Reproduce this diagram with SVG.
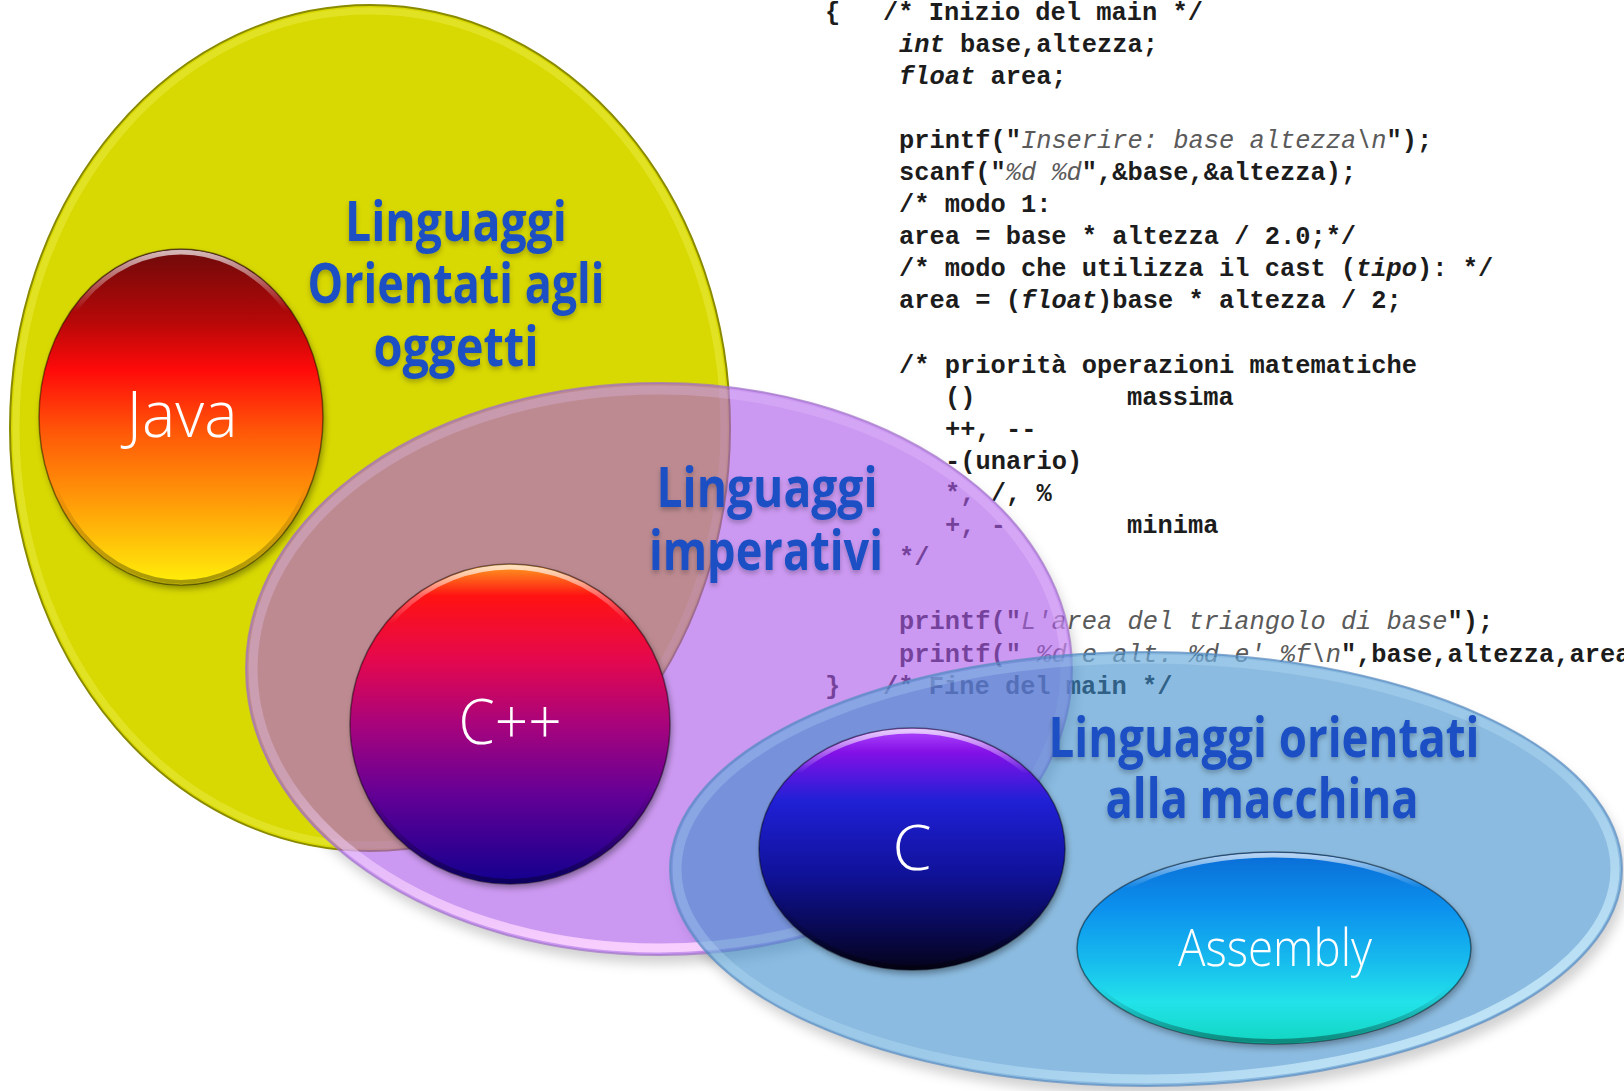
<svg xmlns="http://www.w3.org/2000/svg" width="1624" height="1091" viewBox="0 0 1624 1091">
  <style>
    .code { font-family: "Liberation Mono", "Courier New", monospace; font-size: 25.4px; font-weight: bold; fill: #1c1c1c; white-space: pre; }
    .kw { font-style: italic; }
    .str { font-style: italic; font-weight: normal; fill: #5a5a5a; }
    .set-label { font-family: "Open Sans", "Liberation Sans", sans-serif; font-weight: bold; font-size: 56px; fill: #1b4fc4; text-anchor: middle; filter: url(#labelShadow); }
    .node-label { font-family: "Open Sans", "Liberation Sans", sans-serif; font-weight: 300; fill: #ffffff; text-anchor: middle; }
    .node-edge { fill: none; stroke: #000000; stroke-opacity: 0.45; stroke-width: 1.5; }
    .node-hi { fill: none; stroke: url(#nodeHi); stroke-width: 5; }
    .node-lo { fill: none; stroke: url(#nodeLo); stroke-width: 4; }
  </style>
  <defs>
    <!-- node fills -->
    <linearGradient id="gJava" x1="0" y1="0" x2="0" y2="1">
      <stop offset="0" stop-color="#6e0a0a"/>
      <stop offset="0.22" stop-color="#b80808"/>
      <stop offset="0.36" stop-color="#ff0a0a"/>
      <stop offset="0.55" stop-color="#ff5a08"/>
      <stop offset="0.75" stop-color="#ff9a08"/>
      <stop offset="1" stop-color="#fff00a"/>
    </linearGradient>
    <linearGradient id="gCpp" x1="0" y1="0" x2="0" y2="1">
      <stop offset="0" stop-color="#ffa020"/>
      <stop offset="0.1" stop-color="#ff1212"/>
      <stop offset="0.3" stop-color="#e4084e"/>
      <stop offset="0.5" stop-color="#a8047c"/>
      <stop offset="0.72" stop-color="#640096"/>
      <stop offset="1" stop-color="#12008e"/>
    </linearGradient>
    <linearGradient id="gC" x1="0" y1="0" x2="0" y2="1">
      <stop offset="0" stop-color="#b04aff"/>
      <stop offset="0.1" stop-color="#8410e6"/>
      <stop offset="0.3" stop-color="#2020d6"/>
      <stop offset="0.6" stop-color="#10129a"/>
      <stop offset="0.85" stop-color="#08084c"/>
      <stop offset="1" stop-color="#05031a"/>
    </linearGradient>
    <linearGradient id="gAsm" x1="0" y1="0" x2="0" y2="1">
      <stop offset="0" stop-color="#0a6cd6"/>
      <stop offset="0.3" stop-color="#0c92ee"/>
      <stop offset="0.55" stop-color="#16b8ee"/>
      <stop offset="0.78" stop-color="#22e2ea"/>
      <stop offset="1" stop-color="#12d6c0"/>
    </linearGradient>
    <!-- glossy rims -->
    <linearGradient id="nodeHi" x1="0" y1="0" x2="0" y2="1">
      <stop offset="0" stop-color="#ffffff" stop-opacity="0.7"/>
      <stop offset="0.18" stop-color="#ffffff" stop-opacity="0"/>
    </linearGradient>
    <linearGradient id="nodeLo" x1="0" y1="0" x2="0" y2="1">
      <stop offset="0.7" stop-color="#000000" stop-opacity="0"/>
      <stop offset="1" stop-color="#000000" stop-opacity="0.35"/>
    </linearGradient>
    <linearGradient id="purpleRim" x1="0" y1="0" x2="0" y2="1">
      <stop offset="0" stop-color="#e8c8ff" stop-opacity="0.25"/>
      <stop offset="0.7" stop-color="#f2d0ff" stop-opacity="0.3"/>
      <stop offset="1" stop-color="#ffd8ff" stop-opacity="0.85"/>
    </linearGradient>
    <linearGradient id="blueRim" x1="0" y1="0" x2="1" y2="1">
      <stop offset="0" stop-color="#c8e4ff" stop-opacity="0.2"/>
      <stop offset="0.6" stop-color="#c8ecff" stop-opacity="0.3"/>
      <stop offset="1" stop-color="#d8f6ff" stop-opacity="0.95"/>
    </linearGradient>
    <filter id="soft" x="-10%" y="-10%" width="120%" height="130%">
      <feGaussianBlur stdDeviation="6"/>
    </filter>
    <filter id="nodeShadow" x="-10%" y="-10%" width="120%" height="130%">
      <feGaussianBlur stdDeviation="3"/>
    </filter>
    <filter id="labelShadow" x="-10%" y="-20%" width="120%" height="150%">
      <feDropShadow dx="0" dy="3" stdDeviation="2.5" flood-color="#000000" flood-opacity="0.25"/>
    </filter>
    <mask id="outsidePurple">
      <rect width="1624" height="1091" fill="#ffffff"/>
      <ellipse cx="659" cy="669" rx="413" ry="286" fill="#000000"/>
    </mask>
    <mask id="outsideBlue">
      <rect width="1624" height="1091" fill="#ffffff"/>
      <ellipse cx="1146" cy="869" rx="476" ry="217" fill="#000000"/>
    </mask>
  </defs>

  <rect width="1624" height="1091" fill="#ffffff"/>

  <!-- C source listing in the background -->
  <g id="code" class="code">
    <text x="825" y="19.5">{</text>
    <text x="883" y="19.5">/* Inizio del main */</text>
    <text x="899" y="51.6"><tspan class="kw">int</tspan> base,altezza;</text>
    <text x="899" y="83.7"><tspan class="kw">float</tspan> area;</text>
    <text x="899" y="147.9">printf("<tspan class="str">Inserire: base altezza\n</tspan>");</text>
    <text x="899" y="180">scanf("<tspan class="str">%d %d</tspan>",&amp;base,&amp;altezza);</text>
    <text x="899" y="212.1">/* modo 1:</text>
    <text x="899" y="244.2">area = base * altezza / 2.0;*/</text>
    <text x="899" y="276.3">/* modo che utilizza il cast (<tspan class="kw">tipo</tspan>): */</text>
    <text x="899" y="308.4">area = (<tspan class="kw">float</tspan>)base * altezza / 2;</text>
    <text x="899" y="372.6">/* priorità operazioni matematiche</text>
    <text x="945" y="404.7">()</text>
    <text x="1127" y="404.7">massima</text>
    <text x="945" y="436.8">++, --</text>
    <text x="945" y="468.9">-(unario)</text>
    <text x="945" y="501">*, /, %</text>
    <text x="945" y="533.1">+, -</text>
    <text x="1127" y="533.1">minima</text>
    <text x="899" y="565.2">*/</text>
    <text x="899" y="629.4">printf("<tspan class="str">L'area del triangolo di base</tspan>");</text>
    <text x="899" y="661.5">printf("<tspan class="str"> %d e alt. %d e' %f\n</tspan>",base,altezza,area</text>
    <text x="825" y="693.6">}</text>
    <text x="883" y="693.6">/* Fine del main */</text>
  </g>

  <!-- soft shadows under the translucent sets -->
  <g id="set-shadows">
    <ellipse cx="663" cy="678" rx="413" ry="286" fill="#000000" fill-opacity="0.18" filter="url(#soft)" mask="url(#outsidePurple)"/>
    <ellipse cx="1150" cy="878" rx="476" ry="217" fill="#000000" fill-opacity="0.18" filter="url(#soft)" mask="url(#outsideBlue)"/>
  </g>

  <!-- object oriented languages -->
  <g id="set-oop">
    <ellipse cx="370" cy="428" rx="360" ry="423" fill="#d8d802" stroke="#8a8a00" stroke-width="2"/>
    <ellipse cx="370" cy="428" rx="354" ry="417" fill="none" stroke="#efef50" stroke-opacity="0.45" stroke-width="7"/>
  </g>

  <!-- imperative languages -->
  <g id="set-imperative">
    <ellipse cx="659" cy="669" rx="413" ry="286" fill="#ad5aea" fill-opacity="0.62" stroke="#a070c8" stroke-opacity="0.7" stroke-width="2"/>
    <ellipse cx="659" cy="669" rx="406" ry="279" fill="none" stroke="url(#purpleRim)" stroke-width="9"/>
  </g>

  <!-- machine oriented languages -->
  <g id="set-machine">
    <ellipse cx="1146" cy="869" rx="476" ry="217" fill="#3e8ecb" fill-opacity="0.6" stroke="#5a8cc0" stroke-opacity="0.7" stroke-width="2"/>
    <ellipse cx="1146" cy="869" rx="469" ry="210" fill="none" stroke="url(#blueRim)" stroke-width="9"/>
  </g>

  <g id="java">
    <ellipse cx="183" cy="421" rx="142" ry="168" fill="#000000" fill-opacity="0.35" filter="url(#nodeShadow)"/>
    <ellipse cx="181" cy="417" rx="142" ry="168" fill="url(#gJava)"/>
    <ellipse cx="181" cy="417" rx="139" ry="165" class="node-hi"/>
    <ellipse cx="181" cy="417" rx="139" ry="165" class="node-lo"/>
    <ellipse cx="181" cy="417" rx="142" ry="168" class="node-edge"/>
    <text class="node-label" x="182" y="437" font-size="64" textLength="111" lengthAdjust="spacingAndGlyphs">Java</text>
  </g>

  <g id="cpp">
    <ellipse cx="512" cy="728" rx="160" ry="160" fill="#000000" fill-opacity="0.35" filter="url(#nodeShadow)"/>
    <ellipse cx="510" cy="724" rx="160" ry="160" fill="url(#gCpp)"/>
    <ellipse cx="510" cy="724" rx="157" ry="157" class="node-hi"/>
    <ellipse cx="510" cy="724" rx="157" ry="157" class="node-lo"/>
    <ellipse cx="510" cy="724" rx="160" ry="160" class="node-edge"/>
    <text class="node-label" x="510" y="744" font-size="63" textLength="103" lengthAdjust="spacingAndGlyphs">C++</text>
  </g>

  <g id="c">
    <ellipse cx="914" cy="853" rx="153" ry="121" fill="#000000" fill-opacity="0.35" filter="url(#nodeShadow)"/>
    <ellipse cx="912" cy="849" rx="153" ry="121" fill="url(#gC)"/>
    <ellipse cx="912" cy="849" rx="150" ry="118" class="node-hi"/>
    <ellipse cx="912" cy="849" rx="150" ry="118" class="node-lo"/>
    <ellipse cx="912" cy="849" rx="153" ry="121" class="node-edge"/>
    <text class="node-label" x="912" y="870" font-size="63">C</text>
  </g>

  <g id="assembly">
    <ellipse cx="1276" cy="952" rx="197" ry="96" fill="#000000" fill-opacity="0.3" filter="url(#nodeShadow)"/>
    <ellipse cx="1274" cy="948" rx="197" ry="96" fill="url(#gAsm)"/>
    <ellipse cx="1274" cy="948" rx="194" ry="93" class="node-hi"/>
    <ellipse cx="1274" cy="948" rx="194" ry="93" class="node-lo"/>
    <ellipse cx="1274" cy="948" rx="197" ry="96" class="node-edge"/>
    <text class="node-label" x="1275" y="966" font-size="52" textLength="194" lengthAdjust="spacingAndGlyphs">Assembly</text>
  </g>

  <!-- set captions -->
  <g id="labels">
    <text class="set-label" x="456" y="241" textLength="222" lengthAdjust="spacingAndGlyphs">Linguaggi</text>
    <text class="set-label" x="456" y="303" textLength="297" lengthAdjust="spacingAndGlyphs">Orientati agli</text>
    <text class="set-label" x="456" y="366" textLength="165" lengthAdjust="spacingAndGlyphs">oggetti</text>
    <text class="set-label" x="767" y="507" textLength="221" lengthAdjust="spacingAndGlyphs">Linguaggi</text>
    <text class="set-label" x="766" y="570" textLength="234" lengthAdjust="spacingAndGlyphs">imperativi</text>
    <text class="set-label" x="1264" y="757" textLength="431" lengthAdjust="spacingAndGlyphs">Linguaggi orientati</text>
    <text class="set-label" x="1262" y="818" textLength="313" lengthAdjust="spacingAndGlyphs">alla macchina</text>
  </g>
</svg>
